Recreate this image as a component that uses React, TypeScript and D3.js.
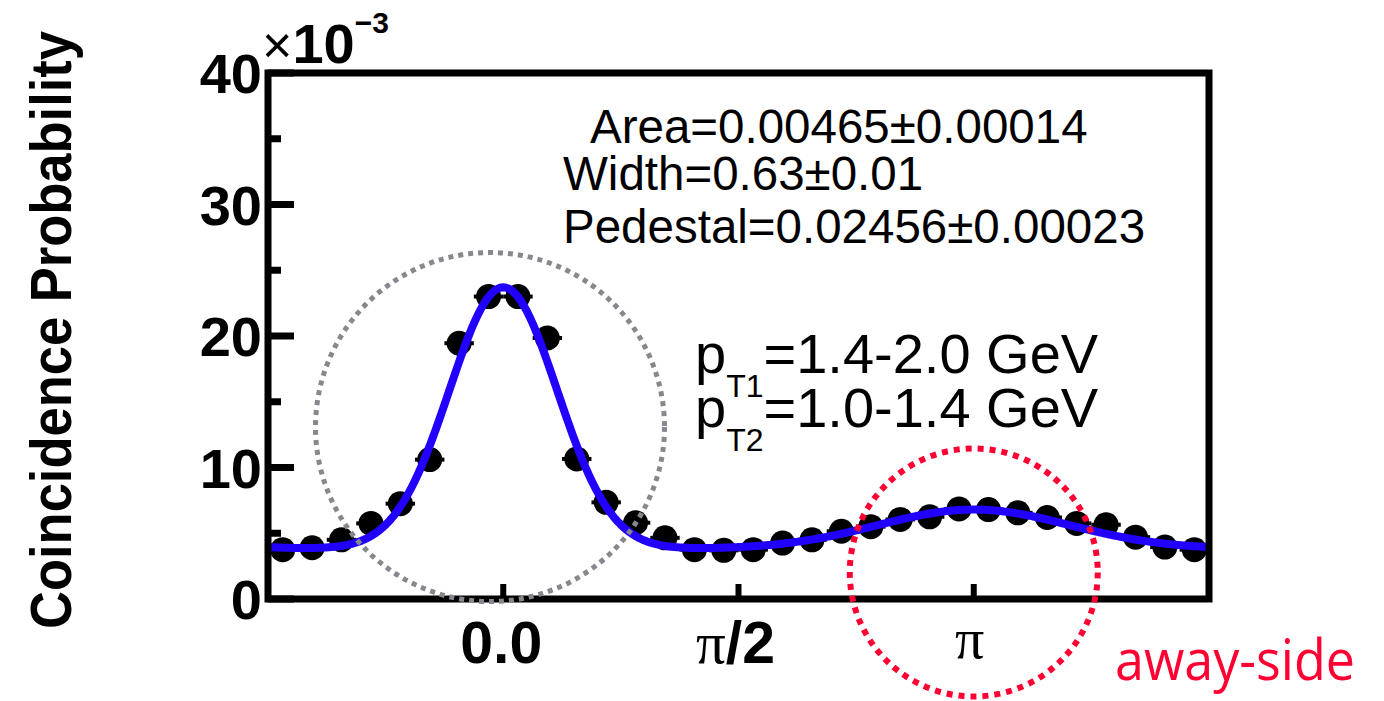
import React from 'react';
import * as d3 from 'd3';

const W = 1384;
const H = 701;

// coincidence probability per delta-phi bin (x10^-3), 32 bins from -pi/2 to 3pi/2
const probValues = [
    3.75, 3.9, 4.5, 5.75, 7.25, 10.6, 19.45, 23.0,
    23.0, 19.85, 10.65, 7.35, 5.8, 4.65, 3.75, 3.7,
    3.75, 4.25, 4.5, 5.15, 5.5, 6.05, 6.25, 6.85,
    6.8, 6.55, 6.2, 5.75, 5.65, 4.7, 3.95, 3.75,
];

const yTicks = [0, 10, 20, 30, 40];
const yMinorTicks = [5, 15, 25, 35];
const xTicks = [0, Math.PI / 2, Math.PI];

// fit: pedestal + near-side gaussian (0) + away-side gaussian (pi)
const fitPedestal = 3.8;
const nearAmp = 19.9;
const nearSigma = 0.36;
const awayAmp = 3.0;
const awaySigma = 0.64;

const fitLines = ['Area=0.00465\u00b10.00014', 'Width=0.63\u00b10.01', 'Pedestal=0.02456\u00b10.00023'];
const ptLabels = [
    {sub: 'T1', range: '=1.4-2.0 GeV'},
    {sub: 'T2', range: '=1.0-1.4 GeV'},
];

const sans = '"Liberation Sans", Arial, Helvetica, sans-serif';
const serif = '"Liberation Serif", "Times New Roman", serif';

const fitFn = (x: number) => {
    let v = fitPedestal;
    for (const n of [-1, 0, 1]) {
        const s = 2 * Math.PI * n;
        v += nearAmp * Math.exp(-((x - s) ** 2) / (2 * nearSigma * nearSigma));
        v += awayAmp * Math.exp(-((x - Math.PI - s) ** 2) / (2 * awaySigma * awaySigma));
    }
    return v;
};

export default function App() {
    const left = 268, right = 1209, top = 73, bottom = 599;

    const x = d3.scaleLinear().domain([-Math.PI / 2, 1.5 * Math.PI]).range([left, right]);
    const y = d3.scaleLinear().domain([0, 40]).range([bottom, top]);

    const binW = (2 * Math.PI) / probValues.length;
    const points = probValues.map((v, i) => ({x: -Math.PI / 2 + (i + 0.5) * binW, v}));

    const curveXs = d3.range(-Math.PI / 2, 1.5 * Math.PI + 0.001, 0.01);
    const line = d3.line<number>()
        .x((d) => x(d))
        .y((d) => y(fitFn(d)));

    return (
        <svg width={W} height={H} style={{position: 'absolute', left: 0, top: 0, background: '#fff'}}>
            {/* y axis title */}
            <text
                transform={`translate(71,330) rotate(-90)`}
                textAnchor='middle'
                fontFamily={sans}
                fontWeight='bold'
                fontSize={57}
                textLength={598}
                lengthAdjust='spacingAndGlyphs'
            >Coincidence Probability</text>

            {/* points with x error bars */}
            <g>
                {points.map((p, i) => (
                    <g key={i}>
                        <line x1={x(p.x - binW / 2)} x2={x(p.x + binW / 2)} y1={y(p.v)} y2={y(p.v)}
                            stroke='#000' strokeWidth={4} />
                        <circle cx={x(p.x)} cy={y(p.v)} r={12.5} fill='#000' />
                    </g>
                ))}
            </g>

            {/* fit curve */}
            <path d={line(curveXs) || ''} fill='none' stroke='#2200ff' strokeWidth={8}
                strokeLinejoin='round' />

            {/* frame */}
            <rect x={left} y={top} width={right - left} height={bottom - top}
                fill='none' stroke='#000' strokeWidth={7} />

            {/* y ticks */}
            {yTicks.map((t) => (
                <g key={'y' + t}>
                    <line x1={left} x2={left + 26} y1={y(t)} y2={y(t)} stroke='#000' strokeWidth={7} />
                    <text x={262} y={y(t) + 20} textAnchor='end' fontFamily={sans}
                        fontWeight='bold' fontSize={56}>{t}</text>
                </g>
            ))}
            {yMinorTicks.map((t) => (
                <line key={'ym' + t} x1={left} x2={left + 13} y1={y(t)} y2={y(t)}
                    stroke='#000' strokeWidth={7} />
            ))}

            {/* x ticks */}
            {xTicks.map((t) => (
                <line key={'x' + t} x1={x(t)} x2={x(t)} y1={bottom} y2={bottom - 15}
                    stroke='#000' strokeWidth={6} />
            ))}
            <text x={x(0) - 2} y={663} textAnchor='middle' fontFamily={sans} fontWeight='bold' fontSize={59}>0.0</text>
            <text x={x(Math.PI / 2) - 3} y={663} textAnchor='middle' fontSize={59}>
                <tspan fontFamily={serif}>{'\u03c0'}</tspan>
                <tspan fontFamily={sans} fontWeight='bold'>/2</tspan>
            </text>
            <text x={x(Math.PI) - 4} y={658} textAnchor='middle' fontFamily={serif} fontSize={58}>{'\u03c0'}</text>

            {/* exponent */}
            <text x={262} y={63} fontFamily={sans}>
                <tspan fontSize={52}>{'\u00d7'}</tspan>
                <tspan fontSize={56} fontWeight='bold'>10</tspan>
                <tspan fontSize={30} fontWeight='bold' dy={-30}>{'\u22123'}</tspan>
            </text>

            {/* fit results */}
            <text x={590} y={143} fontFamily={sans} fontSize={47.5}>{fitLines[0]}</text>
            <text x={563} y={190} fontFamily={sans} fontSize={47.5}>{fitLines[1]}</text>
            <text x={563} y={243} fontFamily={sans} fontSize={47.5}>{fitLines[2]}</text>

            {/* pT ranges */}
            {ptLabels.map((p, i) => (
                <text key={p.sub} x={695} y={373 + i * 54} fontFamily={sans} fontSize={56}>
                    p
                    <tspan fontSize={32} dy={24}>{p.sub}</tspan>
                    <tspan dy={-24}>{p.range}</tspan>
                </text>
            ))}

            {/* highlight circles */}
            <circle cx={490} cy={427} r={174.5} fill='none' stroke='#86888d' strokeWidth={5}
                strokeDasharray='5 5' />
            <circle cx={x(Math.PI)} cy={572.5} r={124} fill='none' stroke='#ff0033' strokeWidth={6}
                strokeDasharray='6 6' />
            <text x={1115} y={680} fontFamily='"Open Sans", "Noto Sans", sans-serif' fontSize={56}
                fill='#ff0033' textLength={240} lengthAdjust='spacingAndGlyphs'>away-side</text>
        </svg>
    );
}
